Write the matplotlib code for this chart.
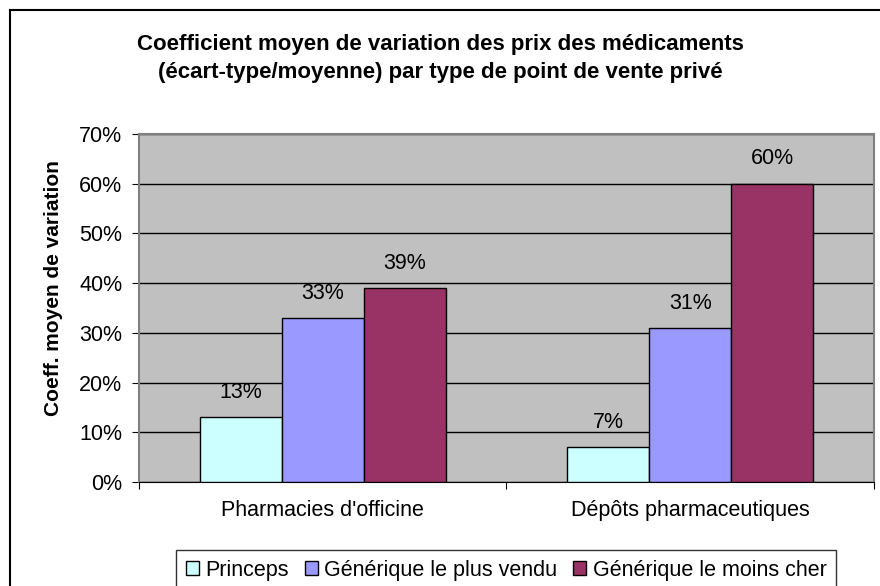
import matplotlib.pyplot as plt
import numpy as np
from matplotlib.lines import Line2D

categories = ["Pharmacies d'officine", "Dépôts pharmaceutiques"]
series = ["Princeps", "Générique le plus vendu", "Générique le moins cher"]
values = [[13, 7], [33, 31], [39, 60]]
colors = ["#CCFFFF", "#9999FF", "#993366"]
yticks = [0, 10, 20, 30, 40, 50, 60, 70]

plt.rcParams['font.family'] = ['Liberation Sans', 'DejaVu Sans']

fig = plt.figure(figsize=(8.8, 5.86), dpi=100)
ax = fig.add_axes([0.158, 0.1775, 0.835, 0.5939])
ax.set_facecolor('#C0C0C0')

x = np.arange(len(categories))
w = 0.223
for i, s in enumerate(series):
    pos = x + (i - 1) * w
    ax.bar(pos, values[i], w, color=colors[i], edgecolor='black', linewidth=1, label=s, zorder=3)
    for p, v in zip(pos, values[i]):
        ax.text(p, v + 5, f"{v}%", ha='center', va='center', fontsize=15.5, zorder=4)

ax.set_xlim(-0.5, 1.5)
ax.set_ylim(0, 70)
ax.set_yticks(yticks)
ax.set_yticklabels([f"{t}%" for t in yticks], fontsize=15.5)
ax.yaxis.grid(True, color='black', linewidth=1, zorder=1)
ax.set_axisbelow(True)

ax.set_xticks([-0.5, 0.5, 1.5])
ax.set_xticklabels([])
ax.set_xticks(x, minor=True)
ax.set_xticklabels(categories, minor=True, fontsize=15.5)
ax.tick_params(axis='x', which='minor', length=0, pad=13)
ax.tick_params(axis='x', which='major', length=5, color='black')
ax.tick_params(axis='y', length=5, color='black', pad=7)

for side in ['top', 'right', 'left']:
    ax.spines[side].set_color('#808080')
    ax.spines[side].set_linewidth(1.5)
ax.spines['bottom'].set_color('black')

ax.set_ylabel("Coeff. moyen de variation", fontsize=15, fontweight='bold')
ax.yaxis.set_label_coords(-0.103, 0.557)

fig.text(0.5, 0.9, "Coefficient moyen de variation des prix des médicaments\n(écart-type/moyenne) par type de point de vente privé",
         ha='center', va='center', fontsize=16, fontweight='bold', linespacing=1.45)

leg = fig.legend(loc='upper left', bbox_to_anchor=(0.2, 0.0614), ncol=3, fontsize=15.5,
                 frameon=True, fancybox=False, edgecolor='black', handlelength=0.6,
                 handleheight=0.6, handletextpad=0.3, columnspacing=0.75, borderpad=0.45,
                 borderaxespad=0)
leg.get_frame().set_linewidth(1)

# chart frame (right and bottom sides fall outside the picture)
fig.lines.append(Line2D([10 / 880, 10 / 880], [0, 1 - 10 / 586], transform=fig.transFigure,
                        color='black', linewidth=1.5))
fig.lines.append(Line2D([10 / 880, 1], [1 - 10 / 586, 1 - 10 / 586], transform=fig.transFigure,
                        color='black', linewidth=1.5))

fig.savefig('out.png', dpi=100)
